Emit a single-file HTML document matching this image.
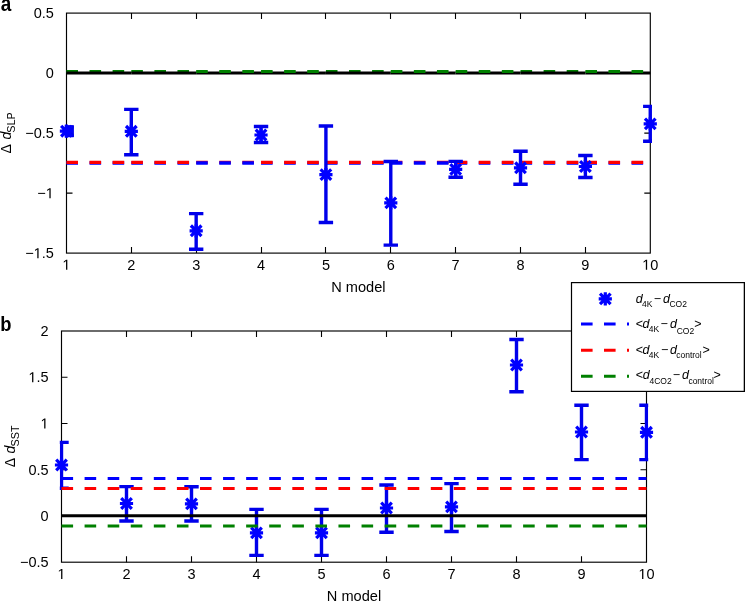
<!DOCTYPE html><html><head><meta charset="utf-8"><style>html,body{margin:0;padding:0;background:#fff;overflow:hidden;}svg{display:block;will-change:transform;}text{font-family:"Liberation Sans",sans-serif;fill:#000;}</style></head><body>
<svg width="745" height="601" viewBox="0 0 745 601">
<defs>
<clipPath id="ca"><rect x="64.8" y="11.4" width="587.20" height="243.40"/></clipPath>
<clipPath id="cb"><rect x="59.8" y="329.3" width="588.40" height="234.60"/></clipPath>
</defs>
<rect width="745" height="601" fill="#fff"/>
<rect x="66.5" y="13.1" width="583.80" height="240.00" fill="none" stroke="#000" stroke-width="1.15"/>
<path d="M131.50 253.1V247.1M131.50 13.1V19.1M196.50 253.1V247.1M196.50 13.1V19.1M261.50 253.1V247.1M261.50 13.1V19.1M325.50 253.1V247.1M325.50 13.1V19.1M390.50 253.1V247.1M390.50 13.1V19.1M455.50 253.1V247.1M455.50 13.1V19.1M520.50 253.1V247.1M520.50 13.1V19.1M585.50 253.1V247.1M585.50 13.1V19.1M66.5 73.10H72.5M650.3 73.10H644.3M66.5 133.10H72.5M650.3 133.10H644.3M66.5 193.10H72.5M650.3 193.10H644.3" stroke="#000" stroke-width="1.1" fill="none"/>
<g clip-path="url(#ca)">
<path d="M66.43 71.50H78.03M89.51 71.50H101.11M112.59 71.50H124.19" stroke="#008000" stroke-width="3.2" fill="none"/><path d="M66.43 72.9H131.30" stroke="#000" stroke-width="3" fill="none"/>
<path d="M66.43 163.00H78.03M89.51 163.00H101.11M112.59 163.00H124.19" stroke="#0000ff" stroke-width="3.4" fill="none"/><path d="M66.43 162.40H78.03M89.51 162.40H101.11M112.59 162.40H124.19" stroke="#ff0000" stroke-width="3.4" fill="none"/>
<path d="M131.30 71.50H142.90M154.38 71.50H165.98M177.46 71.50H189.06" stroke="#008000" stroke-width="3.2" fill="none"/><path d="M131.30 72.9H196.17" stroke="#000" stroke-width="3" fill="none"/>
<path d="M131.30 163.00H142.90M154.38 163.00H165.98M177.46 163.00H189.06" stroke="#0000ff" stroke-width="3.4" fill="none"/><path d="M131.30 162.40H142.90M154.38 162.40H165.98M177.46 162.40H189.06" stroke="#ff0000" stroke-width="3.4" fill="none"/>
<path d="M196.17 72.9H261.04" stroke="#000" stroke-width="3" fill="none"/><path d="M196.17 71.50H207.77M219.25 71.50H230.85M242.33 71.50H253.93" stroke="#008000" stroke-width="3.2" fill="none"/>
<path d="M196.17 162.40H207.77M219.25 162.40H230.85M242.33 162.40H253.93" stroke="#ff0000" stroke-width="3.4" fill="none"/><path d="M196.17 163.00H207.77M219.25 163.00H230.85M242.33 163.00H253.93" stroke="#0000ff" stroke-width="3.4" fill="none"/>
<path d="M261.04 72.9H325.91" stroke="#000" stroke-width="3" fill="none"/><path d="M261.04 71.50H272.64M284.12 71.50H295.72M307.20 71.50H318.80" stroke="#008000" stroke-width="3.2" fill="none"/>
<path d="M261.04 163.00H272.64M284.12 163.00H295.72M307.20 163.00H318.80" stroke="#0000ff" stroke-width="3.4" fill="none"/><path d="M261.04 162.40H272.64M284.12 162.40H295.72M307.20 162.40H318.80" stroke="#ff0000" stroke-width="3.4" fill="none"/>
<path d="M325.91 71.50H337.51M348.99 71.50H360.59M372.07 71.50H383.67" stroke="#008000" stroke-width="3.2" fill="none"/><path d="M325.91 72.9H390.78" stroke="#000" stroke-width="3" fill="none"/>
<path d="M325.91 163.00H337.51M348.99 163.00H360.59M372.07 163.00H383.67" stroke="#0000ff" stroke-width="3.4" fill="none"/><path d="M325.91 162.40H337.51M348.99 162.40H360.59M372.07 162.40H383.67" stroke="#ff0000" stroke-width="3.4" fill="none"/>
<path d="M390.78 72.9H455.65" stroke="#000" stroke-width="3" fill="none"/><path d="M390.78 71.50H402.38M413.86 71.50H425.46M436.94 71.50H448.54" stroke="#008000" stroke-width="3.2" fill="none"/>
<path d="M390.78 162.40H402.38M413.86 162.40H425.46M436.94 162.40H448.54" stroke="#ff0000" stroke-width="3.4" fill="none"/><path d="M390.78 163.00H402.38M413.86 163.00H425.46M436.94 163.00H448.54" stroke="#0000ff" stroke-width="3.4" fill="none"/>
<path d="M455.65 72.9H520.52" stroke="#000" stroke-width="3" fill="none"/><path d="M455.65 71.50H467.25M478.73 71.50H490.33M501.81 71.50H513.41" stroke="#008000" stroke-width="3.2" fill="none"/>
<path d="M455.65 163.00H467.25M478.73 163.00H490.33M501.81 163.00H513.41" stroke="#0000ff" stroke-width="3.4" fill="none"/><path d="M455.65 162.40H467.25M478.73 162.40H490.33M501.81 162.40H513.41" stroke="#ff0000" stroke-width="3.4" fill="none"/>
<path d="M520.52 71.50H532.12M543.60 71.50H555.20M566.68 71.50H578.28" stroke="#008000" stroke-width="3.2" fill="none"/><path d="M520.52 72.9H585.39" stroke="#000" stroke-width="3" fill="none"/>
<path d="M520.52 163.00H532.12M543.60 163.00H555.20M566.68 163.00H578.28" stroke="#0000ff" stroke-width="3.4" fill="none"/><path d="M520.52 162.40H532.12M543.60 162.40H555.20M566.68 162.40H578.28" stroke="#ff0000" stroke-width="3.4" fill="none"/>
<path d="M585.39 72.9H650.26" stroke="#000" stroke-width="3" fill="none"/><path d="M585.39 71.50H596.99M608.47 71.50H620.07M631.55 71.50H643.15" stroke="#008000" stroke-width="3.2" fill="none"/>
<path d="M585.39 163.00H596.99M608.47 163.00H620.07M631.55 163.00H643.15" stroke="#0000ff" stroke-width="3.4" fill="none"/><path d="M585.39 162.40H596.99M608.47 162.40H620.07M631.55 162.40H643.15" stroke="#ff0000" stroke-width="3.4" fill="none"/>
<path d="M66.43 126.90V135.50M59.23 126.90H73.63M59.23 135.50H73.63M131.30 109.40V154.70M124.10 109.40H138.50M124.10 154.70H138.50M196.17 213.60V249.30M188.97 213.60H203.37M188.97 249.30H203.37M261.04 126.50V142.50M253.84 126.50H268.24M253.84 142.50H268.24M325.91 126.00V222.50M318.71 126.00H333.11M318.71 222.50H333.11M390.78 161.50V245.10M383.58 161.50H397.98M383.58 245.10H397.98M455.65 161.40V177.30M448.45 161.40H462.85M448.45 177.30H462.85M520.52 151.20V184.30M513.32 151.20H527.72M513.32 184.30H527.72M585.39 155.50V177.50M578.19 155.50H592.59M578.19 177.50H592.59M650.26 106.40V141.30M643.06 106.40H657.46M643.06 141.30H657.46" stroke="#0000ea" stroke-width="3.4" fill="none"/>
<rect x="66.5" y="125.4" width="7.4" height="11.6" fill="#0000ea"/>
</g>
<path d="M59.83 131.20H73.03M66.43 124.60V137.80M61.13 125.90L71.73 136.50M61.13 136.50L71.73 125.90" stroke="#0000ff" stroke-width="3.2" fill="none"/>
<path d="M124.70 131.30H137.90M131.30 124.70V137.90M126.00 126.00L136.60 136.60M126.00 136.60L136.60 126.00" stroke="#0000ff" stroke-width="3.2" fill="none"/>
<path d="M189.57 230.80H202.77M196.17 224.20V237.40M190.87 225.50L201.47 236.10M190.87 236.10L201.47 225.50" stroke="#0000ff" stroke-width="3.2" fill="none"/>
<path d="M254.44 135.00H267.64M261.04 128.40V141.60M255.74 129.70L266.34 140.30M255.74 140.30L266.34 129.70" stroke="#0000ff" stroke-width="3.2" fill="none"/>
<path d="M319.31 174.60H332.51M325.91 168.00V181.20M320.61 169.30L331.21 179.90M320.61 179.90L331.21 169.30" stroke="#0000ff" stroke-width="3.2" fill="none"/>
<path d="M384.18 202.90H397.38M390.78 196.30V209.50M385.48 197.60L396.08 208.20M385.48 208.20L396.08 197.60" stroke="#0000ff" stroke-width="3.2" fill="none"/>
<path d="M449.05 169.40H462.25M455.65 162.80V176.00M450.35 164.10L460.95 174.70M450.35 174.70L460.95 164.10" stroke="#0000ff" stroke-width="3.2" fill="none"/>
<path d="M513.92 167.80H527.12M520.52 161.20V174.40M515.22 162.50L525.82 173.10M515.22 173.10L525.82 162.50" stroke="#0000ff" stroke-width="3.2" fill="none"/>
<path d="M578.79 166.50H591.99M585.39 159.90V173.10M580.09 161.20L590.69 171.80M580.09 171.80L590.69 161.20" stroke="#0000ff" stroke-width="3.2" fill="none"/>
<path d="M643.66 123.90H656.86M650.26 117.30V130.50M644.96 118.60L655.56 129.20M644.96 129.20L655.56 118.60" stroke="#0000ff" stroke-width="3.2" fill="none"/>
<text x="33.64" y="18.20" font-size="14.5">0.5</text>
<text x="45.74" y="78.20" font-size="14.5">0</text>
<text x="25.18" y="138.20" font-size="14.5">−0.5</text>
<text x="37.27" y="198.20" font-size="14.5">−<tspan fill="transparent">1</tspan></text><path transform="translate(45.74,198.20) scale(0.00708,-0.00708)" d="M515 0V1237L197 1010V1180L530 1409H696V0Z"/>
<text x="25.18" y="258.20" font-size="14.5">−<tspan fill="transparent">1</tspan>.5</text><path transform="translate(33.64,258.20) scale(0.00708,-0.00708)" d="M515 0V1237L197 1010V1180L530 1409H696V0Z"/>
<text x="62.40" y="269.80" font-size="14.5"><tspan fill="transparent">1</tspan></text><path transform="translate(62.40,269.80) scale(0.00708,-0.00708)" d="M515 0V1237L197 1010V1180L530 1409H696V0Z"/>
<text x="127.27" y="269.80" font-size="14.5">2</text>
<text x="192.14" y="269.80" font-size="14.5">3</text>
<text x="257.01" y="269.80" font-size="14.5">4</text>
<text x="321.88" y="269.80" font-size="14.5">5</text>
<text x="386.75" y="269.80" font-size="14.5">6</text>
<text x="451.62" y="269.80" font-size="14.5">7</text>
<text x="516.49" y="269.80" font-size="14.5">8</text>
<text x="581.36" y="269.80" font-size="14.5">9</text>
<text x="642.20" y="269.80" font-size="14.5"><tspan fill="transparent">1</tspan>0</text><path transform="translate(642.20,269.80) scale(0.00708,-0.00708)" d="M515 0V1237L197 1010V1180L530 1409H696V0Z"/>
<text x="358.4" y="291.6" font-size="14.6" text-anchor="middle">N model</text>
<text transform="translate(11.0,132.9) rotate(-90)" font-size="14" text-anchor="middle">Δ <tspan font-style="italic" dx="1.5">d</tspan><tspan font-size="10.8" dy="4.1" dx="-0.8">SLP</tspan></text>
<text transform="translate(0.8,11.1) scale(0.88,1)" font-size="21.5" font-weight="bold">a</text>
<rect x="61.5" y="331.0" width="585.00" height="231.20" fill="none" stroke="#000" stroke-width="1.15"/>
<path d="M126.50 562.2V556.2M126.50 331.0V337.0M191.50 562.2V556.2M191.50 331.0V337.0M256.50 562.2V556.2M256.50 331.0V337.0M321.50 562.2V556.2M321.50 331.0V337.0M386.50 562.2V556.2M386.50 331.0V337.0M451.50 562.2V556.2M451.50 331.0V337.0M516.50 562.2V556.2M516.50 331.0V337.0M581.50 562.2V556.2M581.50 331.0V337.0M61.5 377.24H67.5M646.5 377.24H640.5M61.5 423.48H67.5M646.5 423.48H640.5M61.5 469.72H67.5M646.5 469.72H640.5M61.5 515.96H67.5M646.5 515.96H640.5" stroke="#000" stroke-width="1.1" fill="none"/>
<g clip-path="url(#cb)">
<path d="M61.50 442.40V488.30M54.30 442.40H68.70M54.30 488.30H68.70M126.50 486.60V521.00M119.30 486.60H133.70M119.30 521.00H133.70M191.50 486.80V521.00M184.30 486.80H198.70M184.30 521.00H198.70M256.50 509.40V555.40M249.30 509.40H263.70M249.30 555.40H263.70M321.50 509.40V555.40M314.30 509.40H328.70M314.30 555.40H328.70M386.50 485.00V532.20M379.30 485.00H393.70M379.30 532.20H393.70M451.50 483.60V531.50M444.30 483.60H458.70M444.30 531.50H458.70M516.50 339.50V391.80M509.30 339.50H523.70M509.30 391.80H523.70M581.50 405.30V459.60M574.30 405.30H588.70M574.30 459.60H588.70M646.50 405.30V459.60M639.30 405.30H653.70M639.30 459.60H653.70" stroke="#0000ea" stroke-width="3.4" fill="none"/>
</g>
<path d="M54.90 465.00H68.10M61.50 458.40V471.60M56.20 459.70L66.80 470.30M56.20 470.30L66.80 459.70" stroke="#0000ff" stroke-width="3.2" fill="none"/>
<path d="M119.90 503.50H133.10M126.50 496.90V510.10M121.20 498.20L131.80 508.80M121.20 508.80L131.80 498.20" stroke="#0000ff" stroke-width="3.2" fill="none"/>
<path d="M184.90 503.90H198.10M191.50 497.30V510.50M186.20 498.60L196.80 509.20M186.20 509.20L196.80 498.60" stroke="#0000ff" stroke-width="3.2" fill="none"/>
<path d="M249.90 532.90H263.10M256.50 526.30V539.50M251.20 527.60L261.80 538.20M251.20 538.20L261.80 527.60" stroke="#0000ff" stroke-width="3.2" fill="none"/>
<path d="M314.90 532.90H328.10M321.50 526.30V539.50M316.20 527.60L326.80 538.20M316.20 538.20L326.80 527.60" stroke="#0000ff" stroke-width="3.2" fill="none"/>
<path d="M379.90 508.00H393.10M386.50 501.40V514.60M381.20 502.70L391.80 513.30M381.20 513.30L391.80 502.70" stroke="#0000ff" stroke-width="3.2" fill="none"/>
<path d="M444.90 506.90H458.10M451.50 500.30V513.50M446.20 501.60L456.80 512.20M446.20 512.20L456.80 501.60" stroke="#0000ff" stroke-width="3.2" fill="none"/>
<path d="M509.90 365.00H523.10M516.50 358.40V371.60M511.20 359.70L521.80 370.30M511.20 370.30L521.80 359.70" stroke="#0000ff" stroke-width="3.2" fill="none"/>
<path d="M574.90 432.00H588.10M581.50 425.40V438.60M576.20 426.70L586.80 437.30M576.20 437.30L586.80 426.70" stroke="#0000ff" stroke-width="3.2" fill="none"/>
<path d="M639.90 432.30H653.10M646.50 425.70V438.90M641.20 427.00L651.80 437.60M641.20 437.60L651.80 427.00" stroke="#0000ff" stroke-width="3.2" fill="none"/>
<g clip-path="url(#cb)">
<path d="M61.5 478.5H646.5" stroke="#0000ff" stroke-width="3" stroke-dasharray="11.6 11.48" fill="none"/>
<path d="M61.5 488.5H646.5" stroke="#ff0000" stroke-width="3" stroke-dasharray="11.6 11.48" fill="none"/>
<path d="M61.5 526.1H646.5" stroke="#008000" stroke-width="3.0" stroke-dasharray="11.6 11.48" fill="none"/>
<path d="M61.5 515.8H646.5" stroke="#000" stroke-width="3" fill="none"/>
</g>
<text x="40.54" y="336.10" font-size="14.5">2</text>
<text x="28.44" y="382.34" font-size="14.5"><tspan fill="transparent">1</tspan>.5</text><path transform="translate(28.44,382.34) scale(0.00708,-0.00708)" d="M515 0V1237L197 1010V1180L530 1409H696V0Z"/>
<text x="40.54" y="428.58" font-size="14.5"><tspan fill="transparent">1</tspan></text><path transform="translate(40.54,428.58) scale(0.00708,-0.00708)" d="M515 0V1237L197 1010V1180L530 1409H696V0Z"/>
<text x="28.44" y="474.82" font-size="14.5">0.5</text>
<text x="40.54" y="521.06" font-size="14.5">0</text>
<text x="19.98" y="567.30" font-size="14.5">−0.5</text>
<text x="57.47" y="579.00" font-size="14.5"><tspan fill="transparent">1</tspan></text><path transform="translate(57.47,579.00) scale(0.00708,-0.00708)" d="M515 0V1237L197 1010V1180L530 1409H696V0Z"/>
<text x="122.47" y="579.00" font-size="14.5">2</text>
<text x="187.47" y="579.00" font-size="14.5">3</text>
<text x="252.47" y="579.00" font-size="14.5">4</text>
<text x="317.47" y="579.00" font-size="14.5">5</text>
<text x="382.47" y="579.00" font-size="14.5">6</text>
<text x="447.47" y="579.00" font-size="14.5">7</text>
<text x="512.47" y="579.00" font-size="14.5">8</text>
<text x="577.47" y="579.00" font-size="14.5">9</text>
<text x="638.44" y="579.00" font-size="14.5"><tspan fill="transparent">1</tspan>0</text><path transform="translate(638.44,579.00) scale(0.00708,-0.00708)" d="M515 0V1237L197 1010V1180L530 1409H696V0Z"/>
<text x="354.0" y="601" font-size="14.6" text-anchor="middle">N model</text>
<text transform="translate(15.3,446.4) rotate(-90)" font-size="14" text-anchor="middle">Δ <tspan font-style="italic" dx="1.5">d</tspan><tspan font-size="10.8" dy="4.1" dx="-0.8">SST</tspan></text>
<text transform="translate(0.3,330.5) scale(0.92,1)" font-size="20" font-weight="bold">b</text>
<rect x="571.5" y="282.6" width="173" height="108.8" fill="#fff" stroke="#000" stroke-width="1.2"/>
<path d="M744.5 282V392" stroke="#000" stroke-width="1.4"/>
<path d="M598.70 298.90H611.90M605.30 292.30V305.50M600.00 293.60L610.60 304.20M600.00 304.20L610.60 293.60" stroke="#0000ff" stroke-width="3.2" fill="none"/>
<path d="M581 324.1H592.6M604 324.1H615.6M627 324.1H629" stroke="#0000ff" stroke-width="3" fill="none"/>
<path d="M581 350.2H592.6M604 350.2H615.6M627 350.2H629" stroke="#ff0000" stroke-width="3" fill="none"/>
<path d="M581 376.3H592.6M604 376.3H615.6M627 376.3H629" stroke="#008000" stroke-width="3" fill="none"/>
<text x="635.7" y="302.9" font-size="12.5" font-style="italic">d</text>
<text x="642.1" y="306.7" font-size="8.5">4K</text>
<text x="653.7" y="302.9" font-size="12.5">−</text>
<text x="663.1" y="302.9" font-size="12.5" font-style="italic">d</text>
<text x="669.4" y="306.8" font-size="8.5">CO2</text>
<text x="635.8" y="328.0" font-size="12.5">&lt;</text>
<text x="642.6" y="328.0" font-size="12.5" font-style="italic">d</text>
<text x="648.8" y="332.4" font-size="8.5">4K</text>
<text x="660.6" y="328.0" font-size="12.5">−</text>
<text x="670.0" y="328.0" font-size="12.5" font-style="italic">d</text>
<text x="676.7" y="334.4" font-size="8.5">CO2</text>
<text x="694.3" y="328.0" font-size="12.5">&gt;</text>
<text x="635.8" y="354.1" font-size="12.5">&lt;</text>
<text x="642.6" y="354.1" font-size="12.5" font-style="italic">d</text>
<text x="648.8" y="358.4" font-size="8.5">4K</text>
<text x="661.1" y="354.1" font-size="12.5">−</text>
<text x="670.0" y="354.1" font-size="12.5" font-style="italic">d</text>
<text x="676.2" y="358.4" font-size="8.5">control</text>
<text x="702.4" y="354.1" font-size="12.5">&gt;</text>
<text x="635.7" y="379.4" font-size="12.5">&lt;</text>
<text x="642.8" y="379.4" font-size="12.5" font-style="italic">d</text>
<text x="649.5" y="384.2" font-size="8.5">4CO2</text>
<text x="672.7" y="379.4" font-size="12.5">−</text>
<text x="682.0" y="379.4" font-size="12.5" font-style="italic">d</text>
<text x="688.4" y="384.2" font-size="8.5">control</text>
<text x="713.6" y="379.4" font-size="12.5">&gt;</text>
</svg></body></html>
